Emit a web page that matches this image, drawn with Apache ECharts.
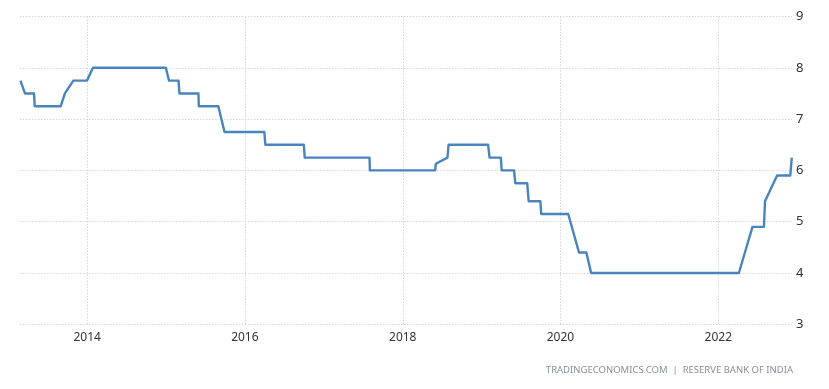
<!DOCTYPE html>
<html>
<head>
<meta charset="utf-8">
<script src="https://cdn.jsdelivr.net/npm/echarts@6/dist/echarts.min.js"></script>
<style>
html,body{margin:0;padding:0;background:#fff;}
#c{width:829px;height:389px;}
</style>
</head>
<body>
<div id="c"></div>
<script>
// Reserve Bank of India repo rate (%)
var dates = [
  '2013-02-26','2013-03-19','2013-04-30','2013-05-03','2013-08-31','2013-09-20','2013-10-29','2013-12-31',
  '2014-01-28','2014-12-31','2015-01-15','2015-02-28','2015-03-04','2015-05-31','2015-06-02','2015-08-31',
  '2015-09-29','2016-03-31','2016-04-05','2016-09-30','2016-10-04','2017-07-31','2017-08-02','2018-05-31',
  '2018-06-03','2018-07-27','2018-08-01','2019-01-31','2019-02-07','2019-03-31','2019-04-04','2019-05-31',
  '2019-06-06','2019-07-31','2019-08-07','2019-09-30','2019-10-04','2020-02-06','2020-03-27','2020-04-30',
  '2020-05-22','2022-04-06','2022-05-04','2022-06-08','2022-07-31','2022-08-05','2022-09-30','2022-11-30',
  '2022-12-07'
];
var rates = [
  7.75, 7.50, 7.50, 7.25, 7.25, 7.50, 7.75, 7.75,
  8.00, 8.00, 7.75, 7.75, 7.50, 7.50, 7.25, 7.25,
  6.75, 6.75, 6.50, 6.50, 6.25, 6.25, 6.00, 6.00,
  6.13, 6.25, 6.50, 6.50, 6.25, 6.25, 6.00, 6.00,
  5.75, 5.75, 5.40, 5.40, 5.15, 5.15, 4.40, 4.40,
  4.00, 4.00, 4.40, 4.90, 4.90, 5.40, 5.90, 5.90,
  6.25
];
var xTickDates = ['2014-01-01','2016-01-01','2018-01-01','2020-01-01','2022-01-01'];
var xTickLabels = ['2014','2016','2018','2020','2022'];
var yMin = 3, yMax = 9, yStep = 1;
var xMin = '2013-02-24', xMax = '2022-12-08';
var sourceText = 'TRADINGECONOMICS.COM  |  RESERVE BANK OF INDIA';

var ts = function(d){ return Date.UTC(+d.slice(0,4), +d.slice(5,7) - 1, +d.slice(8,10)); };
var seriesData = dates.map(function(d, i){ return [ts(d), rates[i]]; });
var xTickValues = xTickDates.map(ts);
var labelMap = {};
xTickValues.forEach(function(v, i){ labelMap[v] = xTickLabels[i]; });

var chart = echarts.init(document.getElementById('c'), null, {renderer: 'canvas'});
chart.setOption({
  animation: false,
  backgroundColor: '#ffffff',
  grid: {left: 20, right: 37, top: 16.5, bottom: 64.7, containLabel: false},
  xAxis: {
    type: 'value',
    min: ts(xMin), max: ts(xMax),
    axisLine: {show: false},
    axisTick: {show: false, customValues: xTickValues},
    axisLabel: {
      customValues: xTickValues,
      formatter: function(v){ return labelMap[v] || ''; },
      color: '#333', fontSize: 12, fontFamily: 'Noto Sans', margin: 7
    },
    splitLine: {show: true, lineStyle: {color: '#d6d6d6', type: [1.5, 1.5], width: 1}}
  },
  yAxis: {
    type: 'value', position: 'right',
    min: yMin, max: yMax, interval: yStep,
    axisLine: {show: false},
    axisTick: {show: false},
    axisLabel: {color: '#333', fontSize: 13, fontFamily: 'Noto Sans', margin: 4},
    splitLine: {show: true, lineStyle: {color: '#d6d6d6', type: [1.5, 1.5], width: 1}}
  },
  graphic: [{
    type: 'text', right: 36, top: 365,
    style: {text: sourceText, fill: '#8a8f99', fontSize: 9.5, fontFamily: 'Noto Sans'}
  }],
  series: [{
    type: 'line',
    data: seriesData,
    showSymbol: false,
    lineStyle: {color: '#4a84bd', width: 2.4, join: 'round'},
    itemStyle: {color: '#4a84bd'}
  }]
});
</script>
</body>
</html>
